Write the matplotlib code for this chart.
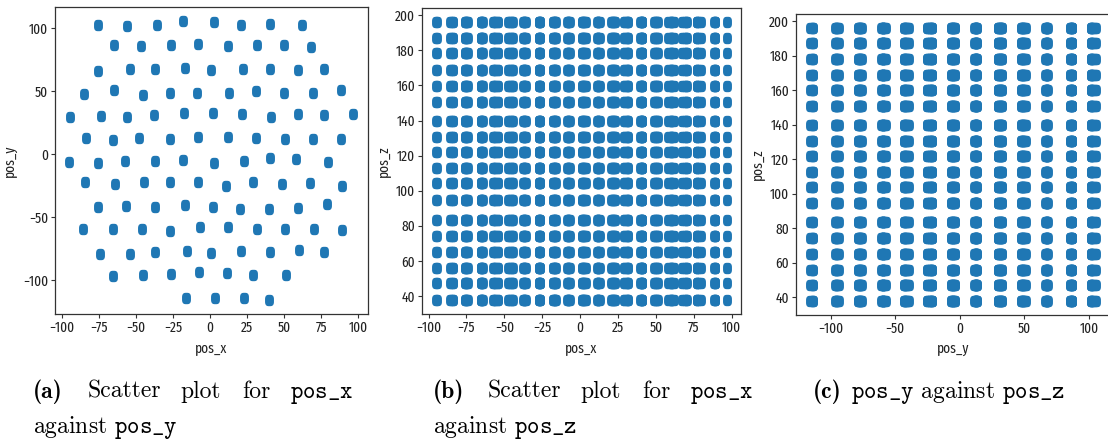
import numpy as np
import matplotlib
matplotlib.use("Agg")
import matplotlib.pyplot as plt

# string (detector line) positions
pos_x = [
    -75.3, -56.0, -36.0, -18.0, 2.7, 21.0, 40.4, 62.2,
    -65.0, -46.7, -26.3, -7.9, 12.1, 31.5, 49.7, 68.5,
    -75.3, -54.0, -36.7, -16.6, 0.9, 22.2, 40.9, 59.8, 76.9,
    -85.2, -65.0, -45.2, -26.7, -9.0, 12.8, 31.0, 49.7, 69.7, 88.5,
    -94.2, -73.7, -56.2, -38.0, -17.5, 1.8, 21.6, 41.1, 59.8, 76.9, 96.6,
    -83.6, -65.4, -47.6, -27.0, -8.3, 12.1, 31.2, 50.6, 69.7, 88.8,
    -94.8, -75.7, -57.5, -36.9, -18.0, 2.9, 22.7, 40.9, 57.8, 80.0,
    -84.0, -63.8, -44.5, -27.0, -8.3, 10.8, 28.8, 48.5, 67.4, 89.2,
    -75.7, -56.9, -37.1, -16.9, 1.8, 20.2, 39.8, 59.8, 78.7,
    -85.8, -65.4, -46.1, -27.0, -6.7, 11.9, 31.5, 50.6, 70.6, 89.2,
    -74.4, -54.2, -36.9, -15.7, 0.9, 20.9, 40.7, 60.4, 77.3,
    -65.4, -45.2, -26.3, -7.6, 11.5, 28.8, 51.5,
    -16.4, 3.6, 22.9, 40.2,
]
pos_y = [
    102.0, 101.6, 102.6, 105.3, 104.5, 102.6, 103.4, 102.0,
    86.3, 86.0, 86.8, 87.3, 85.5, 86.8, 86.8, 85.0,
    65.7, 67.8, 67.3, 68.3, 66.5, 67.8, 67.8, 66.5, 67.3,
    47.8, 50.7, 47.2, 48.8, 48.3, 48.8, 49.9, 48.3, 48.8, 51.2,
    29.8, 30.3, 29.8, 30.9, 32.5, 33.0, 31.9, 29.8, 31.9, 31.4, 31.9,
    12.9, 11.3, 12.9, 12.4, 13.5, 13.5, 12.9, 11.9, 11.9, 12.4,
    -6.1, -6.6, -5.0, -5.0, -4.5, -6.6, -5.5, -3.4, -4.0, -6.1,
    -21.9, -24.0, -22.4, -21.9, -21.9, -25.1, -22.4, -24.0, -23.0, -25.1,
    -41.7, -41.2, -42.2, -40.1, -42.2, -43.3, -43.3, -42.7, -39.6,
    -59.6, -59.6, -59.1, -60.7, -58.0, -57.5, -59.1, -59.6, -59.6, -60.2,
    -78.9, -78.9, -77.8, -76.8, -78.4, -76.8, -77.3, -76.0, -77.3,
    -96.8, -95.8, -95.3, -93.4, -94.5, -95.5, -95.8,
    -113.7, -113.7, -114.2, -115.8,
]
# depth levels present on every string
pos_z = [196.2, 187.3, 178.3, 168.6, 159.9, 150.7, 139.6, 130.6, 121.9,
         112.8, 104.2, 94.7, 83.5, 74.2, 65.3, 56.0, 47.2, 37.7]

xs = np.repeat(pos_x, len(pos_z))
ys = np.repeat(pos_y, len(pos_z))
zs = np.tile(pos_z, len(pos_x))

# slightly tall rounded marker (the source image was squeezed sideways)
t = np.linspace(0, 2 * np.pi, 40)
blob = np.c_[0.75 * np.sign(np.cos(t)) * np.abs(np.cos(t)) ** 0.6,
             np.sign(np.sin(t)) * np.abs(np.sin(t)) ** 0.6]

plt.rcParams['mathtext.fontset'] = 'cm'
tick_font = dict(family=['Fira Sans Extra Condensed', 'DejaVu Sans'], size=10.5)
blue = '#1f77b4'

W, H = 1108, 441
fig = plt.figure(figsize=(W / 100, H / 100), dpi=100)


def px_axes(left, top, right, bottom):
    return fig.add_axes([left / W, 1 - bottom / H, (right - left) / W, (bottom - top) / H])


def style(ax, xlabel, ylabel):
    for s in ax.spines.values():
        s.set_color('#333333')
        s.set_linewidth(0.9)
    ax.tick_params(length=3, width=0.8, pad=2, colors='#333333', labelcolor='#222222')
    for lab in ax.get_xticklabels() + ax.get_yticklabels():
        lab.set_fontfamily(tick_font['family'])
        lab.set_fontsize(tick_font['size'])
    ax.set_xlabel(xlabel, fontdict=tick_font, color='#222222', labelpad=4)
    ax.set_ylabel(ylabel, fontdict=tick_font, color='#222222', labelpad=4)


# (a) pos_x vs pos_y
ax1 = px_axes(55, 7, 368, 314)
ax1.scatter(pos_x, pos_y, s=52, marker=blob, color=blue)
ax1.set_xticks([-100, -75, -50, -25, 0, 25, 50, 75, 100])
ax1.set_yticks([-100, -50, 0, 50, 100])
ax1.set_xlim(-104.5, 106.7)
ax1.set_ylim(-126.6, 116.6)
style(ax1, 'pos_x', 'pos_y')

# (b) pos_x vs pos_z
ax2 = px_axes(422, 8, 741, 314)
ax2.scatter(xs, zs, s=52, marker=blob, color=blue)
ax2.set_xticks([-100, -75, -50, -25, 0, 25, 50, 75, 100])
ax2.set_yticks(range(40, 201, 20))
style(ax2, 'pos_x', 'pos_z')

# (c) pos_y vs pos_z (cropped on the right in the source)
ax3 = px_axes(796, 14, 1110, 315)
ax3.scatter(ys, zs, s=52, marker=blob, color=blue)
ax3.set_xticks([-100, -50, 0, 50, 100])
ax3.set_yticks(range(40, 201, 20))
style(ax3, 'pos_y', 'pos_z')

# captions
cap = dict(family='cmr10', size=17, va='baseline', color='black')


def word(x, y, s, **kw):
    fig.text(x / W, 1 - y / H, s, **{**cap, **kw})


for dx, lab, other in [(0, 'a', 'y'), (400, 'b', 'z')]:
    word(33 + dx, 398, '(%s)' % lab, family='cmb10')
    word(88 + dx, 398, 'Scatter')
    word(180 + dx, 398, 'plot')
    word(242 + dx, 398, 'for')
    word(290 + dx, 398, r'$\mathtt{pos\_x}$')
    word(33 + dx, 433, r'against $\mathtt{pos\_%s}$' % other)

word(813, 398, '(c)', family='cmb10')
word(851, 398, r'$\mathtt{pos\_y}$ against $\mathtt{pos\_z}$')

fig.savefig('out.png', dpi=100)
